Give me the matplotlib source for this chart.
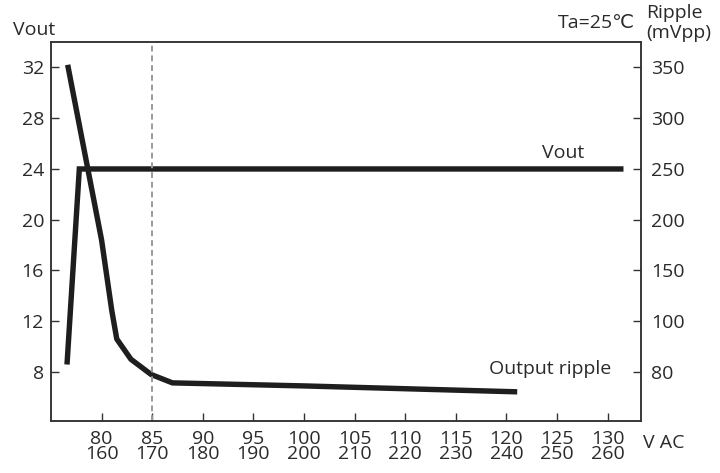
import numpy as np
import matplotlib.pyplot as plt

plt.rcParams['font.family'] = ['Open Sans', 'DejaVu Sans']

# x axis: input voltage (V AC), two label rows
x_ticks = [80, 85, 90, 95, 100, 105, 110, 115, 120, 125, 130]
x_ticks_high = [160, 170, 180, 190, 200, 210, 220, 230, 240, 250, 260]

# left axis (Vout) and right axis (Ripple, non-linear labels at the same positions)
vout_ticks = [8, 12, 16, 20, 24, 28, 32]
ripple_ticks = [80, 100, 150, 200, 250, 300, 350]

# Vout curve
vout_x = [76.6, 77.8, 131.3]
vout_y = [8.8, 24.0, 24.0]

# Output ripple curve (mVpp)
ripple_x = [76.7, 80.0, 81.0, 81.5, 82.9, 84.9, 87.0, 100.0, 120.8]
ripple_mv = [350, 180, 111, 93, 85, 79, 75.7, 74.5, 72.2]

# map ripple mVpp onto the left axis scale (right axis is labelled non-linearly)
ripple_pos = np.interp(ripple_mv, [60] + ripple_ticks, [4] + vout_ticks)

txt = '#2a2a2a'
fs = 14

fig = plt.figure(figsize=(7.2, 4.73), dpi=100)
ax = fig.add_axes([0.0708, 0.109, 0.8195, 0.802])

ax.plot(vout_x, vout_y, color='#1e1e1e', lw=3.9, solid_joinstyle='miter')
ax.plot(ripple_x, ripple_pos, color='#1e1e1e', lw=3.9)
ax.axvline(85, color='#9a9a9a', lw=1.4, ls=(0, (3, 2)))

ax.set_xlim(75, 133.3)
ax.set_ylim(4.1, 34)

ax.set_xticks(x_ticks)
ax.set_xticklabels([f'{a}\n{b}' for a, b in zip(x_ticks, x_ticks_high)],
                   linespacing=0.8)
ax.set_yticks(vout_ticks)
ax.set_yticklabels([str(v) for v in vout_ticks])

ax2 = ax.twinx()
ax2.set_ylim(ax.get_ylim())
ax2.set_yticks(vout_ticks)
ax2.set_yticklabels([str(r) for r in ripple_ticks])

for a in (ax, ax2):
    for s in a.spines.values():
        s.set_color('#333333')
        s.set_linewidth(1.1)
ax.tick_params(axis='both', direction='in', length=6, width=1, color='#333333',
               labelsize=fs, labelcolor=txt)
ax.tick_params(axis='y', pad=5)
ax.tick_params(axis='x', pad=6)
ax2.tick_params(axis='y', direction='in', length=6, width=1, color='#333333',
                labelsize=fs, labelcolor=txt, pad=7)

fig.text(0.018, 0.926, 'Vout', fontsize=fs, color=txt, va='baseline')
fig.text(0.882, 0.941, 'Ta=25℃', fontsize=fs, color=txt, va='baseline', ha='right')
fig.text(0.898, 0.962, 'Ripple', fontsize=fs, color=txt, va='baseline')
fig.text(0.898, 0.920, '(mVpp)', fontsize=fs, color=txt, va='baseline')
ax.text(127.7, 24.87, 'Vout', fontsize=fs, color=txt, ha='right', va='baseline')
ax.text(130.4, 7.84, 'Output ripple', fontsize=fs, color=txt, ha='right', va='baseline')
fig.text(0.893, 0.053, 'V AC', fontsize=fs, color=txt, va='baseline')

fig.savefig('out.png', dpi=100)
